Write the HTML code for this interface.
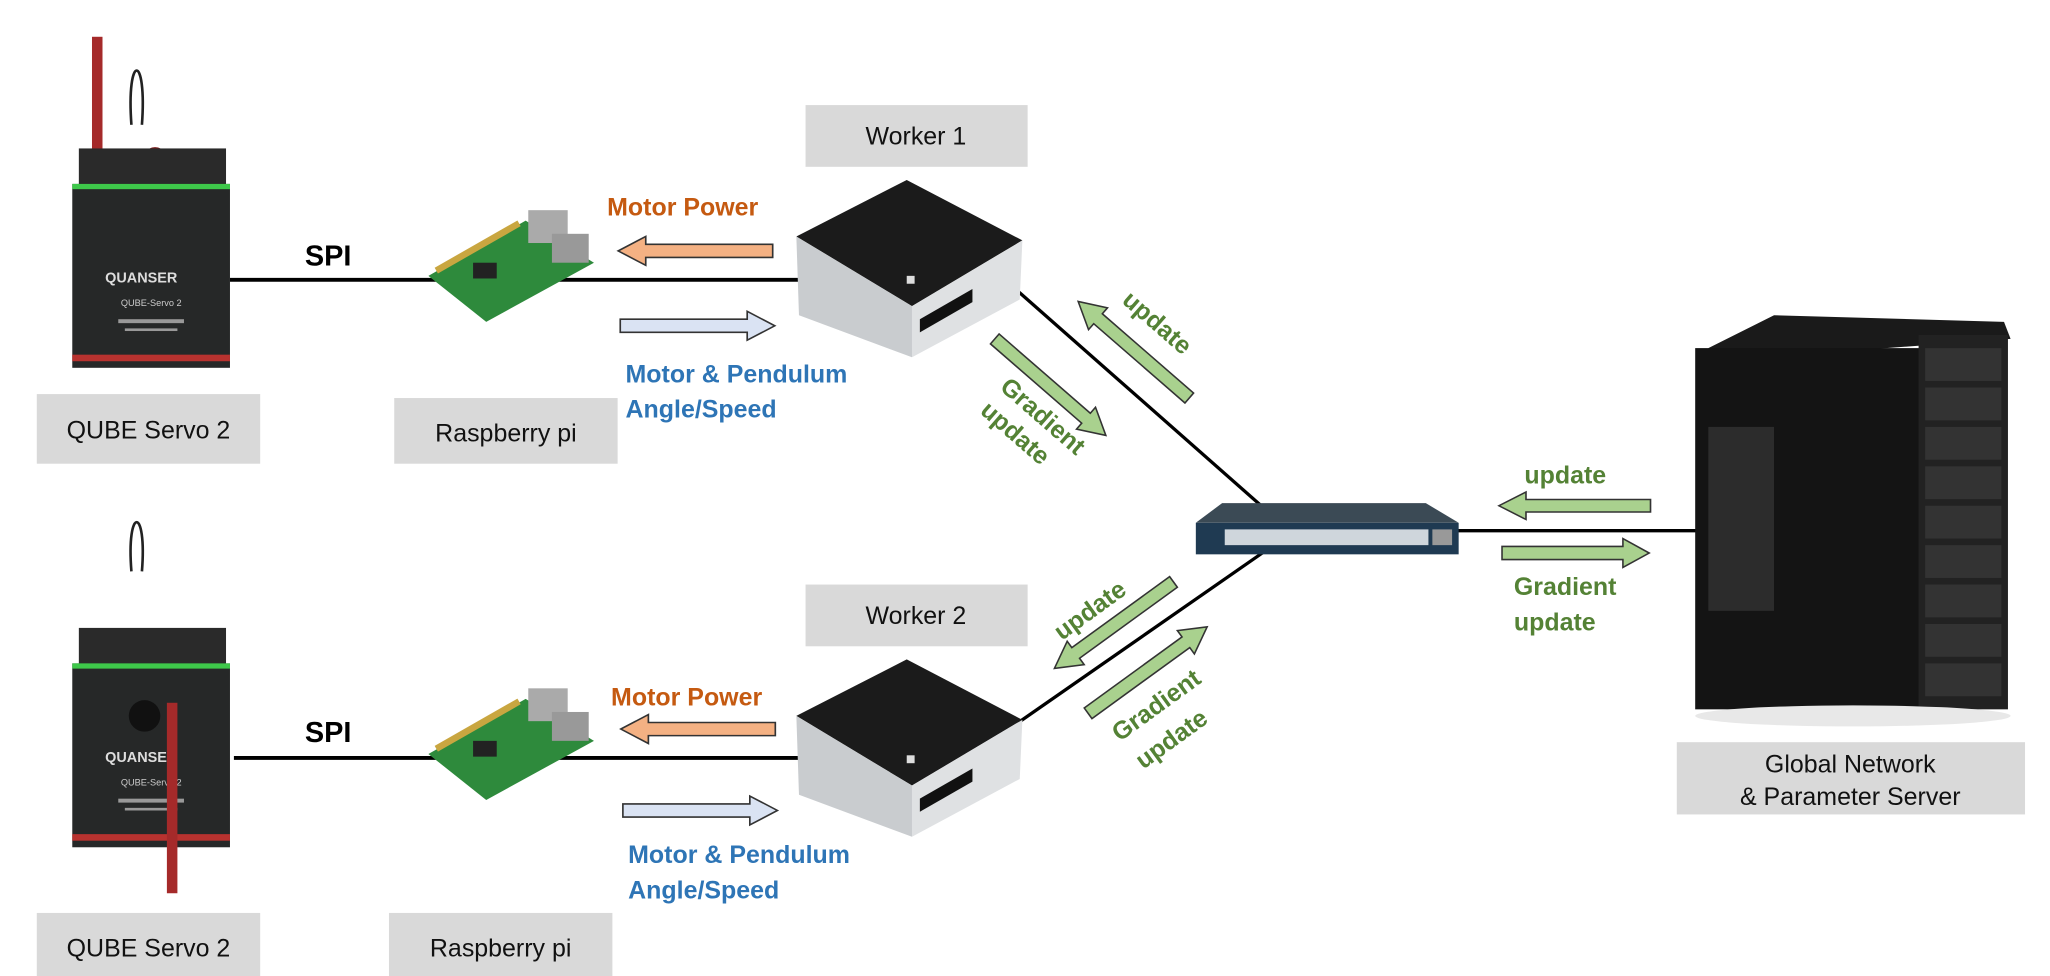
<!DOCTYPE html>
<html><head><meta charset="utf-8"><style>
html,body{margin:0;padding:0;background:#fff;}
svg{display:block;}
text{font-family:"Liberation Sans","Noto Sans CJK KR",sans-serif;}
.lbl{font-size:19px;fill:#111;}
.g{fill:#548235;font-weight:bold;font-size:19px;}
</style></head><body>
<svg width="2050" height="976" viewBox="0 0 1560 743" preserveAspectRatio="none" xmlns="http://www.w3.org/2000/svg">
<defs>
<g id="qube">
<rect x="60" y="113" width="112" height="30" fill="#2a2a2a"/>
<rect x="55" y="140" width="120" height="140" fill="#262828"/>
<rect x="55" y="140" width="120" height="4" fill="#3ec84a"/>
<rect x="55" y="270" width="120" height="5" fill="#b8322f"/>
<text x="80" y="215" fill="#ddd" font-size="11" font-weight="bold">QUANSER</text>
<text x="92" y="233" fill="#ccc" font-size="7">QUBE-Servo 2</text>
<rect x="90" y="243" width="50" height="3" fill="#999"/>
<rect x="95" y="250" width="40" height="2" fill="#999"/>
</g>
<g id="pc">
<polygon points="606,180 690,137 778,183 694,233" fill="#1b1b1b"/>
<polygon points="606,180 694,233 694,272 608,240" fill="#c9cccf"/>
<polygon points="694,233 778,183 776,228 694,272" fill="#dfe1e3"/>
<rect x="690" y="210" width="6" height="6" fill="#ddd"/>
<polygon points="700,243 740,220 740,230 700,253" fill="#111"/>
</g>
<g id="pi">
<polygon points="326,210 400,168 452,200 370,245" fill="#2e8a3c"/>
<rect x="402" y="160" width="30" height="25" fill="#aaa"/>
<rect x="420" y="178" width="28" height="22" fill="#999"/>
<rect x="360" y="200" width="18" height="12" fill="#222"/>
<line x1="332" y1="206" x2="395" y2="170" stroke="#c9a640" stroke-width="5"/>
</g>
<path id="arr" d="M0,-5 L92,-5 L92,-11 L112,0 L92,11 L92,5 L0,5 Z" stroke="#333" stroke-width="1.2"/>
</defs>

<line x1="175" y1="213" x2="610" y2="213" stroke="#000" stroke-width="3"/>
<line x1="178" y1="577" x2="610" y2="577" stroke="#000" stroke-width="3"/>
<line x1="775" y1="222" x2="962" y2="387" stroke="#000" stroke-width="2.5"/>
<line x1="775" y1="550" x2="962" y2="420" stroke="#000" stroke-width="2.5"/>
<line x1="1105" y1="404" x2="1330" y2="404" stroke="#000" stroke-width="2.5"/>

<rect x="70" y="28" width="8" height="125" fill="#a52a2a"/>
<path d="M100,95 C96,40 112,40 108,95" fill="none" stroke="#222" stroke-width="2"/>
<ellipse cx="118" cy="128" rx="12" ry="16" fill="#7a1a1a"/>
<circle cx="100" cy="135" r="13" fill="#111"/>
<use href="#qube"/>
<g transform="translate(0,365)">
<path d="M100,70 C96,20 112,20 108,70" fill="none" stroke="#222" stroke-width="2"/>
<ellipse cx="106" cy="183" rx="12" ry="15" fill="#7a1a1a"/>
<use href="#qube"/>
<circle cx="110" cy="180" r="12" fill="#111"/>
<rect x="127" y="170" width="8" height="145" fill="#a52a2a"/>
</g>

<use href="#pi"/>
<use href="#pi" transform="translate(0,364)"/>
<use href="#pc"/>
<use href="#pc" transform="translate(0,365)"/>

<polygon points="930,383 1085,383 1110,398 910,398" fill="#3b4a55"/>
<rect x="910" y="398" width="200" height="24" fill="#1f3a52"/>
<rect x="932" y="403" width="155" height="12" fill="#cfd6dc"/>
<rect x="1090" y="403" width="15" height="12" fill="#999"/>

<polygon points="1300,265 1350,240 1525,245 1530,258 1300,275" fill="#1a1a1a"/>
<rect x="1290" y="265" width="180" height="275" fill="#141414"/>
<rect x="1460" y="255" width="68" height="285" fill="#222"/>
<g fill="#333">
<rect x="1465" y="265" width="58" height="25"/><rect x="1465" y="295" width="58" height="25"/>
<rect x="1465" y="325" width="58" height="25"/><rect x="1465" y="355" width="58" height="25"/>
<rect x="1465" y="385" width="58" height="25"/><rect x="1465" y="415" width="58" height="25"/>
<rect x="1465" y="445" width="58" height="25"/><rect x="1465" y="475" width="58" height="25"/>
<rect x="1465" y="505" width="58" height="25"/>
</g>
<rect x="1300" y="325" width="50" height="140" fill="#2c2c2c"/>
<ellipse cx="1410" cy="545" rx="120" ry="8" fill="#e8e8e8"/>

<rect x="28" y="300" width="170" height="53" fill="#d9d9d9"/>
<text class="lbl" x="113" y="334" text-anchor="middle">QUBE Servo 2</text>
<rect x="300" y="303" width="170" height="50" fill="#d9d9d9"/>
<text class="lbl" x="385" y="336" text-anchor="middle">Raspberry pi</text>
<rect x="613" y="80" width="169" height="47" fill="#d9d9d9"/>
<text class="lbl" x="697" y="110" text-anchor="middle">Worker 1</text>
<rect x="613" y="445" width="169" height="47" fill="#d9d9d9"/>
<text class="lbl" x="697" y="475" text-anchor="middle">Worker 2</text>
<rect x="28" y="695" width="170" height="50" fill="#d9d9d9"/>
<text class="lbl" x="113" y="728" text-anchor="middle">QUBE Servo 2</text>
<rect x="296" y="695" width="170" height="50" fill="#d9d9d9"/>
<text class="lbl" x="381" y="728" text-anchor="middle">Raspberry pi</text>
<rect x="1276" y="565" width="265" height="55" fill="#d9d9d9"/>
<text class="lbl" x="1408" y="588" text-anchor="middle">Global Network</text>
<text class="lbl" x="1408" y="613" text-anchor="middle">&amp; Parameter Server</text>

<text x="232" y="202" font-size="22" font-weight="bold">SPI</text>
<text x="232" y="565" font-size="22" font-weight="bold">SPI</text>

<text x="462" y="164" font-size="19" font-weight="bold" fill="#c55a11">Motor Power</text>
<use href="#arr" fill="#f4b183" transform="translate(588,191) scale(-1.05,1)"/>
<use href="#arr" fill="#dae3f3" transform="translate(472,248) scale(1.05,1)"/>
<text x="476" y="291" font-size="19" font-weight="bold" fill="#2e75b6">Motor &amp; Pendulum</text>
<text x="476" y="318" font-size="19" font-weight="bold" fill="#2e75b6">Angle/Speed</text>
<text x="465" y="537" font-size="19" font-weight="bold" fill="#c55a11">Motor Power</text>
<use href="#arr" fill="#f4b183" transform="translate(590,555) scale(-1.05,1)"/>
<use href="#arr" fill="#dae3f3" transform="translate(474,617) scale(1.05,1)"/>
<text x="478" y="657" font-size="19" font-weight="bold" fill="#2e75b6">Motor &amp; Pendulum</text>
<text x="478" y="684" font-size="19" font-weight="bold" fill="#2e75b6">Angle/Speed</text>

<use href="#arr" fill="#a9d18e" transform="translate(905,303) rotate(221)"/>
<use href="#arr" fill="#a9d18e" transform="translate(757,258) rotate(41)"/>
<text class="g" transform="translate(853,230) rotate(41)">update</text>
<text class="g" transform="translate(760,296) rotate(41)">Gradient</text>
<text class="g" transform="translate(745,314) rotate(41)">update</text>
<use href="#arr" fill="#a9d18e" transform="translate(893,443) rotate(144)"/>
<use href="#arr" fill="#a9d18e" transform="translate(828,543) rotate(-36)"/>
<text class="g" transform="translate(808,488) rotate(-36)">update</text>
<text class="g" transform="translate(852,565) rotate(-36)">Gradient</text>
<text class="g" transform="translate(870,586) rotate(-36)">update</text>

<text class="g" x="1160" y="368">update</text>
<use href="#arr" fill="#a9d18e" transform="translate(1256,385) scale(-1.03,0.95)"/>
<use href="#arr" fill="#a9d18e" transform="translate(1143,421) scale(1.0,1)"/>
<text class="g" x="1152" y="453">Gradient</text>
<text class="g" x="1152" y="480">update</text>
</svg>
</body></html>
